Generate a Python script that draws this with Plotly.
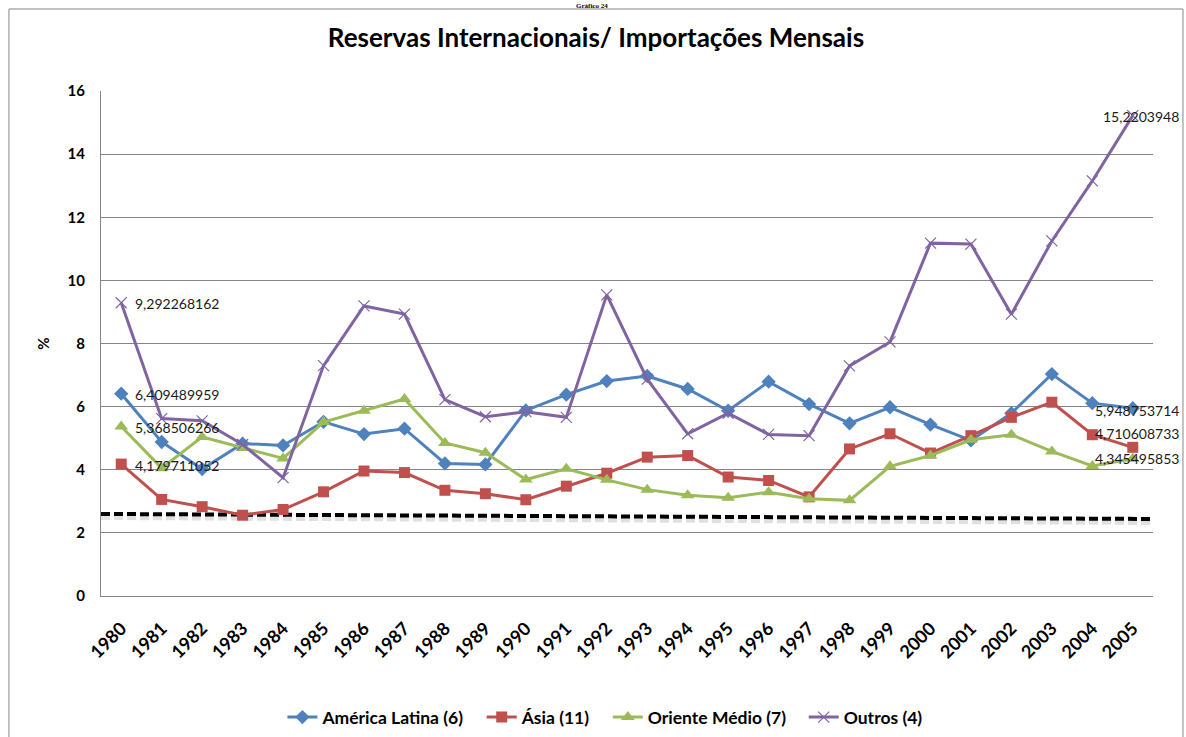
import plotly.graph_objects as go

years = list(range(1980, 2006))

america_latina = [6.409489959, 4.88, 4.02, 4.83, 4.77, 5.52, 5.13, 5.30, 4.20, 4.17,
                  5.88, 6.38, 6.81, 6.97, 6.56, 5.87, 6.79, 6.08, 5.47, 5.98,
                  5.43, 4.93, 5.79, 7.03, 6.11, 5.948753714]
asia = [4.179711052, 3.06, 2.83, 2.56, 2.74, 3.30, 3.96, 3.91, 3.35, 3.24,
        3.05, 3.48, 3.89, 4.40, 4.45, 3.77, 3.66, 3.14, 4.66, 5.14,
        4.53, 5.08, 5.66, 6.14, 5.11, 4.710608733]
oriente_medio = [5.368506266, 4.05, 5.04, 4.69, 4.36, 5.51, 5.87, 6.24, 4.85, 4.54,
                 3.69, 4.03, 3.68, 3.37, 3.19, 3.11, 3.29, 3.08, 3.03, 4.11,
                 4.45, 4.95, 5.11, 4.58, 4.12, 4.345495853]
outros = [9.292268162, 5.62, 5.55, 4.80, 3.75, 7.30, 9.19, 8.93, 6.22, 5.68,
          5.84, 5.66, 9.54, 6.87, 5.14, 5.79, 5.12, 5.08, 7.29, 8.05,
          11.18, 11.15, 8.93, 11.25, 13.15, 15.2203948]

# dashed reference (trend) line, values at the two ends of the category axis
trend_years = [1979.5, 2005.5]
trend_values = [2.60, 2.44]

series_names = ["América Latina (6)", "Ásia (11)", "Oriente Médio (7)", "Outros (4)"]
first_labels = ["6,409489959", "4,179711052", "5,368506266", "9,292268162"]
last_labels = ["5,948753714", "4,710608733", "4,345495853", "15,2203948"]

tick_labels = [str(y) for y in years]

colors = ["#4F81BD", "#C0504D", "#9BBB59", "#8064A2"]
font = "Lato, 'Open Sans', sans-serif"

fig = go.Figure()

# shadow of dashed line
fig.add_trace(go.Scatter(
    x=trend_years, y=[v - 0.08 for v in trend_values], mode="lines",
    line=dict(color="rgba(0,0,0,0.12)", width=7, dash="9px,4px"),
    showlegend=False, hoverinfo="skip"))
fig.add_trace(go.Scatter(
    x=trend_years, y=trend_values, mode="lines",
    line=dict(color="#000000", width=4, dash="9px,4px"),
    showlegend=False, hoverinfo="skip"))

all_series = [america_latina, asia, oriente_medio, outros]
markers = [
    dict(symbol="diamond", size=11, color=colors[0]),
    dict(symbol="square", size=11, color=colors[1]),
    dict(symbol="triangle-up", size=12, color=colors[2]),
    dict(symbol="x-thin", size=11, color=colors[3], line=dict(width=1.2, color=colors[3])),
]

pad = "\u00a0" * 3
for i, (name, vals, col, mk) in enumerate(zip(series_names, all_series, colors, markers)):
    fig.add_trace(go.Scatter(
        x=years, y=vals, mode="lines+markers",
        name=name + (pad if i < len(series_names) - 1 else ""),
        line=dict(color=col, width=3), marker=mk))

# data labels (first and last points)
last_shift = [(4, -2), (4, 14), (4, 0), (8, -1)]
for vals, fl, ll, (dx, dy) in zip(all_series, first_labels, last_labels, last_shift):
    fig.add_annotation(x=years[0], y=vals[0], text=fl, showarrow=False,
                       xanchor="left", yanchor="middle", xshift=12, yshift=-1,
                       font=dict(family=font, size=14, color="#1a1a1a"))
    fig.add_annotation(x=years[-1], y=vals[-1], text=ll, showarrow=False,
                       xanchor="center", yanchor="middle", xshift=dx, yshift=dy,
                       font=dict(family=font, size=14, color="#1a1a1a"))

# small heading above chart frame
fig.add_annotation(xref="paper", yref="paper", x=0.467, y=1.1802, text="<b>Gráfico 24</b>",
                   showarrow=False, xanchor="center", yanchor="top",
                   font=dict(family="'Liberation Serif', serif", size=7, color="#000"))

# chart frame
fig.add_shape(type="rect", xref="paper", yref="paper",
              x0=-0.0875, x1=1.0285, y0=-0.31, y1=1.1624,
              line=dict(color="#868686", width=1), layer="below")

fig.update_layout(
    width=1186, height=737,
    margin=dict(l=101, r=33, t=91, b=141, autoexpand=False),
    paper_bgcolor="white", plot_bgcolor="white",
    title=dict(text="Reservas Internacionais/ Importações Mensais",
               x=0.5025, xanchor="center", y=0.948, yanchor="middle",
               font=dict(family=font, size=26, color="#000", weight="bold")),
    legend=dict(orientation="h", x=0.479, xanchor="center", y=-0.24, yanchor="middle",
                font=dict(family=font, size=17.5, color="#000", weight="bold"),
                itemwidth=30, bgcolor="rgba(0,0,0,0)"),
    font=dict(family=font),
)

fig.update_xaxes(
    type="linear", range=[1979.5, 2005.5], automargin=False,
    tickmode="array", tickvals=years, ticktext=tick_labels,
    tickangle=-45, tickfont=dict(family=font, size=18, color="#000", weight="bold"),
    showgrid=False, showline=True, linecolor="#868686", linewidth=1,
    ticks="outside", ticklen=14, tickcolor="rgba(0,0,0,0)", zeroline=False)

fig.update_yaxes(
    range=[0, 16], dtick=2, tickformat="d", automargin=False,
    tickfont=dict(family=font, size=15, color="#000", weight="bold"),
    showgrid=True, gridcolor="#868686", gridwidth=1,
    showline=True, linecolor="#868686", linewidth=1,
    ticks="outside", ticklen=12, tickcolor="rgba(0,0,0,0)", zeroline=False,
    title=dict(text="%", font=dict(family=font, size=15, color="#000", weight="bold"), standoff=14))

# remove the page's default 8px body margin so the figure sits at the window origin
fig.write_html("out.html", config={"displayModeBar": False},
               post_script="document.body.style.margin='0px';")
